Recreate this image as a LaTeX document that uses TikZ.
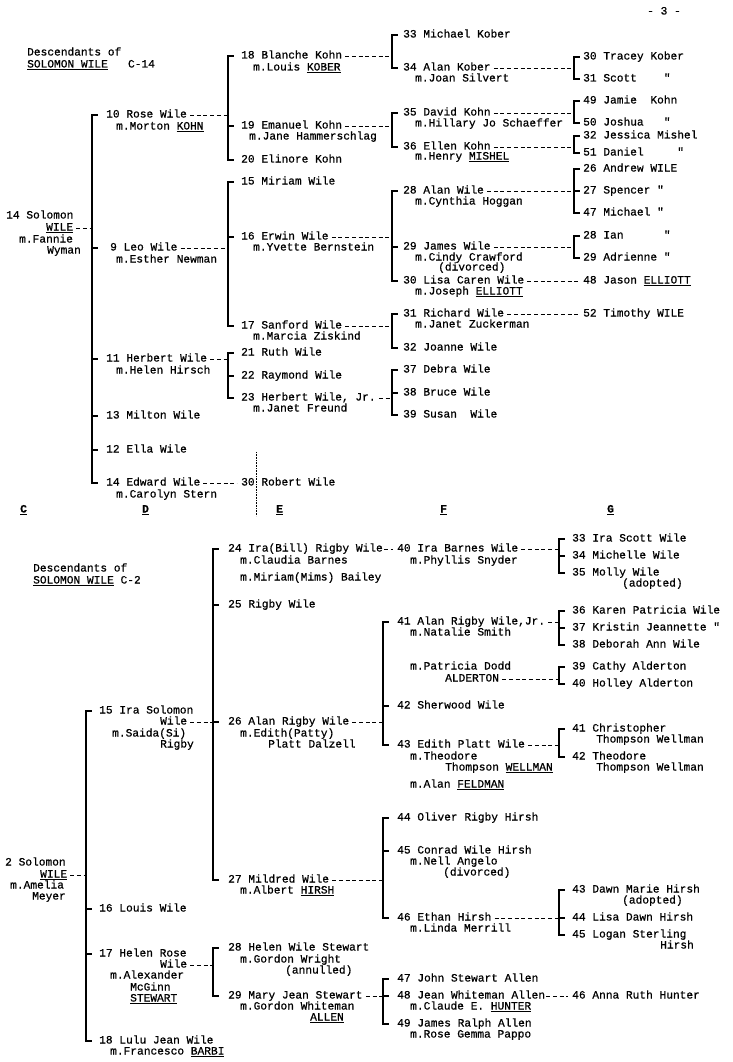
\documentclass[tikz,border=0pt]{standalone}
\usepackage{fontspec}
\setmonofont{Liberation Mono}[FakeBold=0.7]
\usetikzlibrary{positioning}
\newcommand{\typw}{\ttfamily\fontsize{11.2}{12}\selectfont}
% parent -> bracket, bracket, ticks to the children
\newcommand{\famline}[5]{%
  \draw[lnk] ([xshift=3pt]#1.east) -- (#1.east -| #2);
  \draw[brk] (#3.west -| #2) -- (#4.west -| #2);
  \foreach \k in {#5} \draw[brk] (\k.west -| #2) -- ++(5pt,0);}

\begin{document}
\begin{tikzpicture}[x=1pt,y=-1pt,
  nm/.style={anchor=west, inner sep=0pt, text height=7pt, text depth=2pt, font=\typw},
  brk/.style={line width=1.2pt, line cap=rect},
  lnk/.style={line width=0.8pt, dash pattern=on 4pt off 2.7pt},
  col/.style={nm, font=\typw\bfseries}]
  \useasboundingbox (0,0) rectangle (732,1062);

  % ---------------- page 3, top: C-14
  \node[nm] (pg) at (647,12) {- 3 -};
  \node[nm] (aT1) at (27,53) {Descendants of};
  \node[nm] (aT2) at (27,65) {\underline{SOLOMON WILE}~~~C-14};

  % generation C
  \node[nm] (a14)   at (6,216)  {14 Solomon};
  \node[nm] (a14w)  at (46,228) {\underline{WILE}};
  \node[nm] (a14m)  at (19,240) {m.Fannie};
  \node[nm] (a14m2) at (47,251) {Wyman};

  % generation D
  \node[nm] (a10)  at (106,115) {10 Rose Wile};
  \node[nm] (a10m) at (116,127) {m.Morton \underline{KOHN}};
  \node[nm] (a9)   at (110,248) {9 Leo Wile};
  \node[nm] (a9m)  at (116,260) {m.Esther Newman};
  \node[nm] (a11)  at (106,359) {11 Herbert Wile};
  \node[nm] (a11m) at (116,371) {m.Helen Hirsch};
  \node[nm] (a13)  at (106,416) {13 Milton Wile};
  \node[nm] (a12)  at (106,450) {12 Ella Wile};
  \node[nm] (a14e) at (106,483) {14 Edward Wile};
  \node[nm] (a14em) at (116,495) {m.Carolyn Stern};

  % generation E
  \node[nm] (a18)  at (241,56)  {18 Blanche Kohn};
  \node[nm] (a18m) at (253,68)  {m.Louis \underline{KOBER}};
  \node[nm] (a19)  at (241,126) {19 Emanuel Kohn};
  \node[nm] (a19m) at (249,137) {m.Jane Hammerschlag};
  \node[nm] (a20)  at (241,160) {20 Elinore Kohn};
  \node[nm] (a15)  at (241,182) {15 Miriam Wile};
  \node[nm] (a16)  at (241,237) {16 Erwin Wile};
  \node[nm] (a16m) at (253,248) {m.Yvette Bernstein};
  \node[nm] (a17)  at (241,326) {17 Sanford Wile};
  \node[nm] (a17m) at (253,337) {m.Marcia Ziskind};
  \node[nm] (a21)  at (241,353) {21 Ruth Wile};
  \node[nm] (a22)  at (241,376) {22 Raymond Wile};
  \node[nm] (a23)  at (241,398) {23 Herbert Wile, Jr.};
  \node[nm] (a23m) at (253,409) {m.Janet Freund};
  \node[nm] (a30r) at (241,483) {30 Robert Wile};

  % generation F
  \node[nm] (a33)  at (403,35)  {33 Michael Kober};
  \node[nm] (a34)  at (403,68)  {34 Alan Kober};
  \node[nm] (a34m) at (415,79)  {m.Joan Silvert};
  \node[nm] (a35)  at (403,113) {35 David Kohn};
  \node[nm] (a35m) at (415,124) {m.Hillary Jo Schaeffer};
  \node[nm] (a36)  at (403,147) {36 Ellen Kohn};
  \node[nm] (a36m) at (415,157) {m.Henry \underline{MISHEL}};
  \node[nm] (a28)  at (403,191) {28 Alan Wile};
  \node[nm] (a28m) at (415,202) {m.Cynthia Hoggan};
  \node[nm] (a29)  at (403,247) {29 James Wile};
  \node[nm] (a29m) at (415,258) {m.Cindy Crawford};
  \node[nm] (a29m2) at (438,268) {(divorced)};
  \node[nm] (a30)  at (403,281) {30 Lisa Caren Wile};
  \node[nm] (a30m) at (415,292) {m.Joseph \underline{ELLIOTT}};
  \node[nm] (a31)  at (403,314) {31 Richard Wile};
  \node[nm] (a31m) at (415,325) {m.Janet Zuckerman};
  \node[nm] (a32)  at (403,348) {32 Joanne Wile};
  \node[nm] (a37)  at (403,370) {37 Debra Wile};
  \node[nm] (a38)  at (403,393) {38 Bruce Wile};
  \node[nm] (a39)  at (403,415) {39 Susan~~Wile};

  % generation G
  \node[nm] (a30t) at (583,57)  {30 Tracey Kober};
  \node[nm] (a31s) at (583,79)  {31 Scott~~~~"};
  \node[nm] (a49)  at (583,101) {49 Jamie~~Kohn};
  \node[nm] (a50)  at (583,123) {50 Joshua~~~"};
  \node[nm] (a32j) at (583,136) {32 Jessica Mishel};
  \node[nm] (a51)  at (583,153) {51 Daniel~~~~~"};
  \node[nm] (a26)  at (583,169) {26 Andrew WILE};
  \node[nm] (a27)  at (583,191) {27 Spencer~"};
  \node[nm] (a47)  at (583,213) {47 Michael~"};
  \node[nm] (a28i) at (583,236) {28 Ian~~~~~~"};
  \node[nm] (a29a) at (583,258) {29 Adrienne~"};
  \node[nm] (a48)  at (583,281) {48 Jason \underline{ELLIOTT}};
  \node[nm] (a52)  at (583,314) {52 Timothy WILE};

  % column letters
  \node[col] (cC) at (20,510)  {\underline{C}};
  \node[col] (cD) at (142,510) {\underline{D}};
  \node[col] (cE) at (276,510) {\underline{E}};
  \node[col] (cF) at (440,510) {\underline{F}};
  \node[col] (cG) at (607,510) {\underline{G}};

  % brackets, top
  \coordinate (xa1) at (92,0);
  \coordinate (xa2) at (228,0);
  \coordinate (xa3) at (392,0);
  \coordinate (xa4) at (574,0);
  \famline{a14w}{xa1}{a10}{a14e}{a10,a9,a11,a13,a12,a14e}
  \famline{a10}{xa2}{a18}{a20}{a18,a19,a20}
  \famline{a9}{xa2}{a15}{a17}{a15,a16,a17}
  \famline{a11}{xa2}{a21}{a23}{a21,a22,a23}
  \famline{a18}{xa3}{a33}{a34}{a33,a34}
  \famline{a19}{xa3}{a35}{a36}{a35,a36}
  \famline{a16}{xa3}{a28}{a30}{a28,a29,a30}
  \famline{a17}{xa3}{a31}{a32}{a31,a32}
  \famline{a23}{xa3}{a37}{a39}{a37,a38,a39}
  \famline{a34}{xa4}{a30t}{a31s}{a30t,a31s}
  \famline{a35}{xa4}{a49}{a50}{a49,a50}
  \famline{a36}{xa4}{a32j}{a51}{a32j,a51}
  \famline{a28}{xa4}{a26}{a47}{a26,a27,a47}
  \famline{a29}{xa4}{a28i}{a29a}{a28i,a29a}
  \draw[lnk] ([xshift=3pt]a30.east) -- ([xshift=-4pt]a48.west);
  \draw[lnk] ([xshift=3pt]a31.east) -- ([xshift=-4pt]a52.west);
  \draw[lnk] ([xshift=3pt]a14e.east) -- ([xshift=-4pt]a30r.west);
  \draw[densely dotted, line width=0.6pt] (256,452) -- (256,516);

  % ---------------- page 3, bottom: C-2
  \node[nm] (bT1) at (33,569) {Descendants of};
  \node[nm] (bT2) at (33,581) {\underline{SOLOMON WILE} C-2};

  % generation C
  \node[nm] (b2)   at (5,863)  {2 Solomon};
  \node[nm] (b2w)  at (40,875) {\underline{WILE}};
  \node[nm] (b2m)  at (10,886) {m.Amelia};
  \node[nm] (b2m2) at (32,897) {Meyer};

  % generation D
  \node[nm] (b15)   at (99,711)  {15 Ira Solomon};
  \node[nm] (b15w)  at (160,722) {Wile};
  \node[nm] (b15m)  at (112,734) {m.Saida(Si)};
  \node[nm] (b15m2) at (160,745) {Rigby};
  \node[nm] (b16)   at (99,909)  {16 Louis Wile};
  \node[nm] (b17)   at (99,954)  {17 Helen Rose};
  \node[nm] (b17w)  at (160,965) {Wile};
  \node[nm] (b17m)  at (110,976) {m.Alexander};
  \node[nm] (b17m2) at (130,988) {McGinn};
  \node[nm] (b17m3) at (130,999) {\underline{STEWART}};
  \node[nm] (b18)   at (99,1041) {18 Lulu Jean Wile};
  \node[nm] (b18m)  at (110,1052) {m.Francesco \underline{BARBI}};

  % generation E
  \node[nm] (b24)   at (228,549) {24 Ira(Bill) Rigby Wile};
  \node[nm] (b24m)  at (240,561) {m.Claudia Barnes};
  \node[nm] (b24m2) at (240,578) {m.Miriam(Mims) Bailey};
  \node[nm] (b25)   at (228,605) {25 Rigby Wile};
  \node[nm] (b26)   at (228,722) {26 Alan Rigby Wile};
  \node[nm] (b26m)  at (240,734) {m.Edith(Patty)};
  \node[nm] (b26m2) at (268,745) {Platt Dalzell};
  \node[nm] (b27)   at (228,880) {27 Mildred Wile};
  \node[nm] (b27m)  at (240,891) {m.Albert \underline{HIRSH}};
  \node[nm] (b28)   at (228,948) {28 Helen Wile Stewart};
  \node[nm] (b28m)  at (240,960) {m.Gordon Wright};
  \node[nm] (b28m2) at (285,971) {(annulled)};
  \node[nm] (b29)   at (228,996) {29 Mary Jean Stewart};
  \node[nm] (b29m)  at (240,1007) {m.Gordon Whiteman};
  \node[nm] (b29m2) at (310,1018) {\underline{ALLEN}};

  % generation F
  \node[nm] (b40)   at (397,549) {40 Ira Barnes Wile};
  \node[nm] (b40m)  at (410,561) {m.Phyllis Snyder};
  \node[nm] (b41)   at (397,622) {41 Alan Rigby Wile,Jr.};
  \node[nm] (b41m)  at (410,633) {m.Natalie Smith};
  \node[nm] (b41m2) at (410,667) {m.Patricia Dodd};
  \node[nm] (b41m3) at (445,679) {ALDERTON};
  \node[nm] (b42)   at (397,706) {42 Sherwood Wile};
  \node[nm] (b43)   at (397,745) {43 Edith Platt Wile};
  \node[nm] (b43m)  at (410,757) {m.Theodore};
  \node[nm] (b43m2) at (445,768) {Thompson \underline{WELLMAN}};
  \node[nm] (b43m3) at (410,785) {m.Alan \underline{FELDMAN}};
  \node[nm] (b44)   at (397,818) {44 Oliver Rigby Hirsh};
  \node[nm] (b45)   at (397,851) {45 Conrad Wile Hirsh};
  \node[nm] (b45m)  at (410,862) {m.Nell Angelo};
  \node[nm] (b45m2) at (443,873) {(divorced)};
  \node[nm] (b46)   at (397,918) {46 Ethan Hirsh};
  \node[nm] (b46m)  at (410,929) {m.Linda Merrill};
  \node[nm] (b47)   at (397,979) {47 John Stewart Allen};
  \node[nm] (b48)   at (397,996) {48 Jean Whiteman Allen};
  \node[nm] (b48m)  at (410,1007) {m.Claude E. \underline{HUNTER}};
  \node[nm] (b49)   at (397,1024) {49 James Ralph Allen};
  \node[nm] (b49m)  at (410,1035) {m.Rose Gemma Pappo};

  % generation G
  \node[nm] (b33)  at (572,539) {33 Ira Scott Wile};
  \node[nm] (b34)  at (572,556) {34 Michelle Wile};
  \node[nm] (b35)  at (572,573) {35 Molly Wile};
  \node[nm] (b35m) at (622,584) {(adopted)};
  \node[nm] (b36)  at (572,611) {36 Karen Patricia Wile};
  \node[nm] (b37)  at (572,628) {37 Kristin Jeannette "};
  \node[nm] (b38)  at (572,645) {38 Deborah Ann Wile};
  \node[nm] (b39)  at (572,667) {39 Cathy Alderton};
  \node[nm] (b40h) at (572,684) {40 Holley Alderton};
  \node[nm] (b41c) at (572,729) {41 Christopher};
  \node[nm] (b41cm) at (596,740) {Thompson Wellman};
  \node[nm] (b42t) at (572,757) {42 Theodore};
  \node[nm] (b42tm) at (596,768) {Thompson Wellman};
  \node[nm] (b43d) at (572,890) {43 Dawn Marie Hirsh};
  \node[nm] (b43dm) at (622,901) {(adopted)};
  \node[nm] (b44l) at (572,918) {44 Lisa Dawn Hirsh};
  \node[nm] (b45l) at (572,935) {45 Logan Sterling};
  \node[nm] (b45lm) at (660,946) {Hirsh};
  \node[nm] (b46a) at (572,996) {46 Anna Ruth Hunter};

  % brackets, bottom
  \coordinate (xb1) at (86,0);
  \coordinate (xb2) at (213,0);
  \coordinate (xb3) at (383,0);
  \coordinate (xb4) at (559,0);
  \famline{b2w}{xb1}{b15}{b18}{b15,b16,b17,b18}
  \famline{b15w}{xb2}{b24}{b27}{b24,b25,b26,b27}
  \famline{b17w}{xb2}{b28}{b29}{b28,b29}
  \famline{b26}{xb3}{b41}{b43}{b41,b42,b43}
  \famline{b27}{xb3}{b44}{b46}{b44,b45,b46}
  \famline{b29}{xb3}{b47}{b49}{b47,b48,b49}
  \famline{b40}{xb4}{b33}{b35}{b33,b34,b35}
  \famline{b41}{xb4}{b36}{b38}{b36,b37,b38}
  \famline{b41m3}{xb4}{b39}{b40h}{b39,b40h}
  \famline{b43}{xb4}{b41c}{b42t}{b41c,b42t}
  \famline{b46}{xb4}{b43d}{b45l}{b43d,b44l,b45l}
  \draw[lnk] ([xshift=1pt]b24.east) -- ([xshift=-4pt]b40.west);
  \draw[lnk] ([xshift=1pt]b48.east) -- ([xshift=-4pt]b46a.west);
\end{tikzpicture}
\end{document}
